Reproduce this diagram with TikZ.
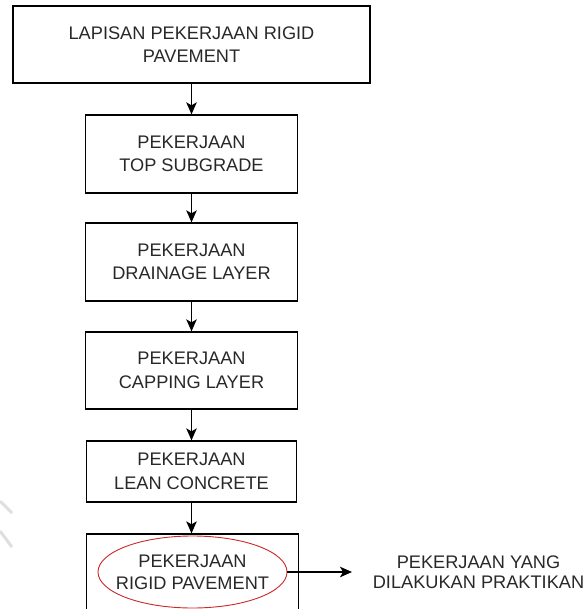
\documentclass[tikz,border=0pt]{standalone}
\usepackage{fontspec}
\setmainfont{Liberation Sans}
\usetikzlibrary{positioning,shapes.geometric,arrows.meta}

\definecolor{inkgray}{RGB}{40,40,40}
\definecolor{ringred}{RGB}{205,40,40}
\tikzset{
	stepbox/.style={draw, line width=1.3pt, align=center, inner sep=0pt, text=inkgray,
		font=\fontsize{18.2}{23.5}\selectfont, minimum width=#1, minimum height=78pt},
	stepbox/.default=212pt,
	ring/.style={ellipse, draw=ringred, line width=0.9pt, inner xsep=-12pt, inner ysep=0pt,
		minimum width=189pt, minimum height=72pt, align=center, text=inkgray,
		font=\fontsize{18.2}{22}\selectfont},
	note/.style={align=center, text=inkgray, font=\fontsize{18.2}{20}\selectfont}
}

\begin{document}
\begin{tikzpicture}[x=1pt, y=-1pt, node distance=108pt, on grid, line width=1.3pt,
	>={Stealth[length=12pt, width=10.5pt, inset=3pt]}]
	\path[use as bounding box, clip] (0,0) rectangle (585,609);

	\node[stepbox=357pt, minimum height=77pt] (lapisan) at (191.5,44.5) {LAPISAN PEKERJAAN RIGID\\PAVEMENT};
	\node[stepbox] (subgrade) [below=109.5pt of lapisan] {PEKERJAAN\\TOP SUBGRADE};
	\node[stepbox] (drainage) [below=of subgrade] {PEKERJAAN\\DRAINAGE LAYER};
	\node[stepbox, minimum height=77pt] (capping) [below=108.5pt of drainage] {PEKERJAAN\\CAPPING LAYER};
	\node[stepbox=210pt, minimum height=61pt] (lean) [below=101pt of capping] {PEKERJAAN\\LEAN CONCRETE};
	\node[stepbox=212pt, minimum height=90pt] (rigid) [below right=107.5pt and 1pt of lean] {};
	\node[ring] (praktik) at (192.5,572) {PEKERJAAN\\RIGID PAVEMENT};
	\node[note] (hasil) at (478.5,572) {PEKERJAAN YANG\\DILAKUKAN PRAKTIKAN};
	\coordinate (tip) at (352,572);

	% alur pekerjaan
	\draw[->] (lapisan) -- (subgrade);
	\draw[->] (subgrade) -- (drainage);
	\draw[->] (drainage) -- (capping);
	\draw[->] (capping) -- (lean);
	\draw[->] (lean) -- (lean |- rigid.north);
	\draw[->] (praktik) -- (tip);

	% bekas tanda air
	\draw[line width=3pt, gray!25] (0,501) -- (12,513);
	\draw[line width=3pt, gray!25] (0,531) -- (12,547);
\end{tikzpicture}
\end{document}
